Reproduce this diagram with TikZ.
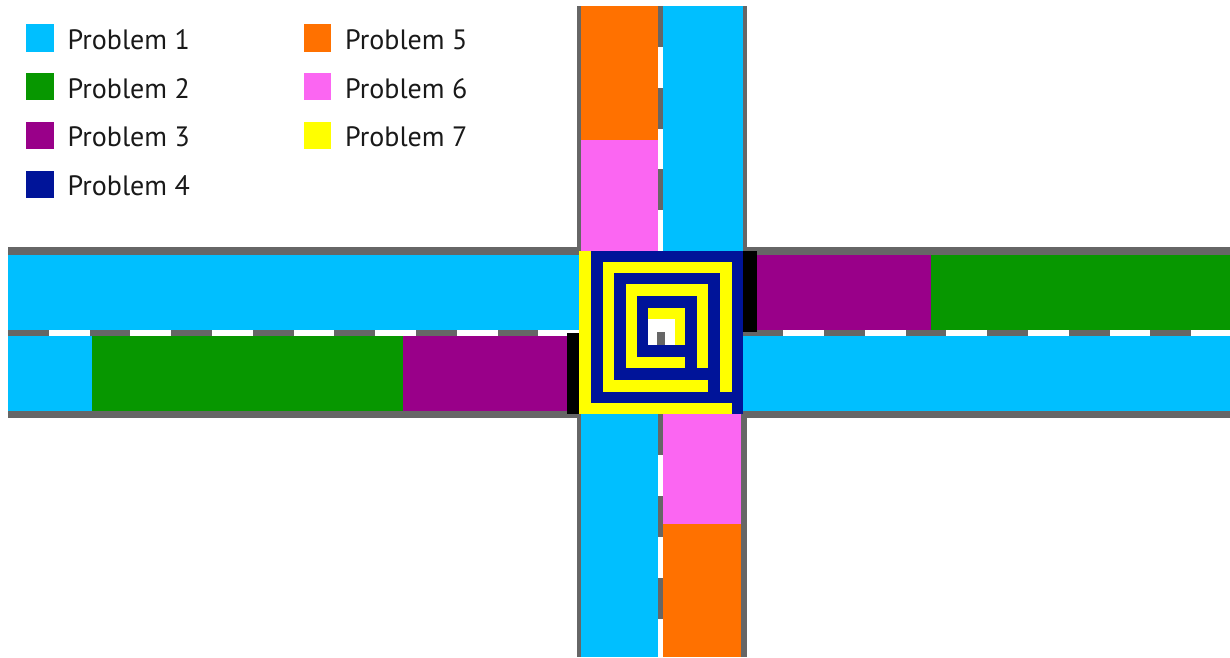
\documentclass[tikz,border=0pt]{standalone}
\usepackage{fontspec}
\setmainfont{PT Sans}
\definecolor{pone}{HTML}{00BFFF}
\definecolor{ptwo}{HTML}{079700}
\definecolor{pthree}{HTML}{990089}
\definecolor{pfour}{HTML}{001499}
\definecolor{pfive}{HTML}{FF7100}
\definecolor{psix}{HTML}{FB66F2}
\definecolor{pseven}{HTML}{FFFF00}
\definecolor{roadgray}{HTML}{666666}
\tikzset{
  legsq/.style={rectangle, minimum size=27.5pt, inner sep=0pt, anchor=north west},
  legtxt/.style={anchor=base west, inner sep=0pt, font=\fontsize{28}{32}\selectfont, text=black!90},
  spiralblue/.style={fill=pfour},
  dashwhite/.style={fill=white}
}
\begin{document}
\begin{tikzpicture}[x=1pt,y=-1pt]
\useasboundingbox[fill=white] (0,0) rectangle (1230,657);
% road edges (gray bands)
\fill[roadgray] (8,247) rectangle (1230,418);
\fill[roadgray] (576.7,6) rectangle (746.7,657);
% horizontal lanes, west
\fill[pone] (8,254.5) rectangle (579.3,329.5);
\fill[pone] (8,336) rectangle (91.7,411);
\fill[ptwo] (91.7,336) rectangle (403.3,411);
\fill[pthree] (403.3,336) rectangle (566.7,411);
% horizontal lanes, east
\fill[pthree] (756.7,254.5) rectangle (930.7,329.5);
\fill[ptwo] (930.7,254.5) rectangle (1230,329.5);
\fill[pone] (742.7,336) rectangle (1230,411);
% vertical lanes, north
\fill[pfive] (581.3,6) rectangle (657.7,140);
\fill[psix] (581.3,140) rectangle (657.7,250.7);
\fill[pone] (662.7,6) rectangle (743.3,250.7);
% vertical lanes, south
\fill[pone] (581.3,414) rectangle (657.7,657);
\fill[psix] (662.7,414) rectangle (740.5,524);
\fill[pfive] (662.7,524) rectangle (740.5,657);
% centre line dashes
\foreach \k in {0,...,6} {\fill[dashwhite] ({48.8+81.6*\k},329.5) rectangle ++(40.8,6.5);}
\foreach \k in {9,...,13} {\fill[dashwhite] ({48.8+81.6*\k},329.5) rectangle ++(40.8,6.5);}
\fill[dashwhite] (1191.2,329.5) rectangle (1230,336);
\foreach \k in {0,1,2} {\fill[dashwhite] (657.7,{46.8+81.7*\k}) rectangle ++(5,40.8);}
\foreach \k in {5,6} {\fill[dashwhite] (657.7,{46.8+81.7*\k}) rectangle ++(5,40.8);}
\fill[dashwhite] (657.7,618.7) rectangle (662.7,657);
% spiral (Problem 4 / Problem 7)
\fill[pseven] (579.3,250.7) rectangle (742.7,414);
\fill[spiralblue] (591,250.7) rectangle (742.7,261.7);
\fill[spiralblue] (731.7,250.7) rectangle (742.7,414);
\fill[spiralblue] (591,392.3) rectangle (742.7,403.3);
\fill[spiralblue] (591,261.7) rectangle (602.7,403.3);
\fill[spiralblue] (614.3,272.7) rectangle (720,284.3);
\fill[spiralblue] (708.3,272.7) rectangle (720,392.3);
\fill[spiralblue] (614.3,368.3) rectangle (720,380);
\fill[spiralblue] (614.3,284.3) rectangle (625.7,380);
\fill[spiralblue] (636.7,295.7) rectangle (696.7,307.7);
\fill[spiralblue] (685,295.7) rectangle (696.7,368.3);
\fill[spiralblue] (636.7,345) rectangle (696.7,356.7);
\fill[spiralblue] (636.7,295.7) rectangle (648.3,356.7);
\fill[white] (648.3,319.3) rectangle (675,345);
\fill[roadgray] (657.2,332) rectangle (664.5,345);
% stop bars
\fill[black] (566.7,332.7) rectangle (579.3,414);
\fill[black] (743.3,250.7) rectangle (756.7,332);
% legend
\node[legsq, fill=pone] (k1) at (26,24) {};
\node[legsq, fill=ptwo] (k2) at (26,72.7) {};
\node[legsq, fill=pthree] (k3) at (26,121.5) {};
\node[legsq, fill=pfour] (k4) at (26,170.5) {};
\node[legsq, fill=pfive] (k5) at (303.5,24) {};
\node[legsq, fill=psix] (k6) at (303.5,72.7) {};
\node[legsq, fill=pseven] (k7) at (303.5,121.5) {};
\node[legtxt] (t1) at (67.5,49.3) {Problem 1};
\node[legtxt] (t2) at (67.5,98) {Problem 2};
\node[legtxt] (t3) at (67.5,146.7) {Problem 3};
\node[legtxt] (t4) at (67.5,195.4) {Problem 4};
\node[legtxt] (t5) at (345,49.3) {Problem 5};
\node[legtxt] (t6) at (345,98) {Problem 6};
\node[legtxt] (t7) at (345,146.7) {Problem 7};
\end{tikzpicture}
\end{document}
